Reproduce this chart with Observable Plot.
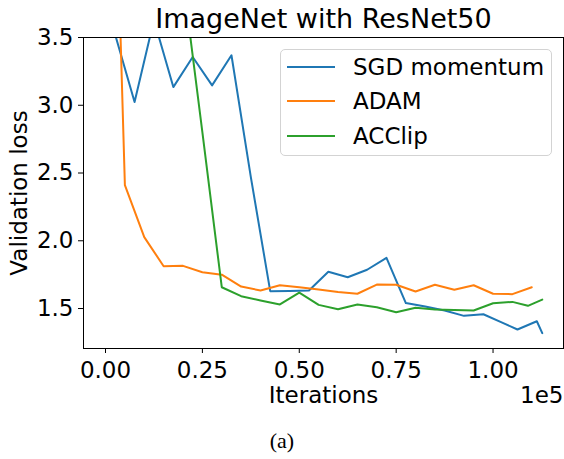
<!DOCTYPE html>
<html><head><meta charset="utf-8">
<script src="https://cdn.jsdelivr.net/npm/d3@7"></script>
<script src="https://cdn.jsdelivr.net/npm/@observablehq/plot@0.6"></script>
<style>
body{margin:0;background:#fff;}
#wrap{position:relative;width:564px;height:459px;font-family:"DejaVu Sans";overflow:hidden;}
#legend{position:absolute;left:280px;top:49px;width:272px;height:107px;border:1px solid #d3d3d3;border-radius:5px;background:rgba(255,255,255,0.8);box-sizing:border-box;}
.sw{position:absolute;width:48px;height:2px;}
.lt{position:absolute;font-size:23px;line-height:34px;height:34px;white-space:nowrap;color:#000;}
#caption{position:absolute;left:0;top:428px;width:564px;text-align:center;font-family:"Liberation Serif";font-size:22px;line-height:26px;}
</style></head>
<body>
<div id="wrap"><div id="chart"></div><div id="legend"></div><div id="caption">(a)</div></div>
<script>
const titleText = "ImageNet with ResNet50";
const xLabel = "Iterations";
const yLabel = "Validation loss";
const xExponent = "1e5";
const captionText = "(a)";
const seriesNames = ["SGD momentum", "ADAM", "ACClip"];
const seriesColors = ["#1f77b4", "#ff7f0e", "#2ca02c"];
const xTicks = [0, 25000, 50000, 75000, 100000];
const yTicks = [1.5, 2.0, 2.5, 3.0, 3.5];

const sgdIter = [2500,7500,12500,17500,22500,27500,32500,37500,42500,47500,52500,57500,62500,67500,72500,77500,82500,87500,92500,97500,102500,106300,111300,112700];
const sgdLoss = [3.52,3.024,3.63,3.134,3.356,3.147,3.369,2.47,1.628,1.630,1.633,1.771,1.731,1.786,1.874,1.540,1.515,1.485,1.446,1.458,1.394,1.345,1.406,1.318];

const adamIter = [0,5000,10000,15000,20000,25000,30000,35000,40000,45000,50000,55000,60000,65000,70000,75000,80000,85000,90000,95000,100000,105000,110000];
const adamLoss = [7.3,2.41,2.027,1.812,1.815,1.768,1.750,1.662,1.633,1.672,1.657,1.640,1.622,1.609,1.677,1.675,1.626,1.675,1.638,1.672,1.609,1.606,1.657];

const acclipIter = [20000,25000,30000,35000,40000,45000,50000,55000,60000,65000,70000,75000,80000,85000,90000,95000,100000,105000,109000,112700];
const acclipLoss = [3.93,2.80,1.657,1.591,1.559,1.530,1.618,1.527,1.495,1.530,1.510,1.473,1.505,1.493,1.490,1.485,1.539,1.549,1.520,1.566];

const series = [
  sgdIter.map((x,i)=>({x, y: sgdLoss[i], s: seriesNames[0]})),
  adamIter.map((x,i)=>({x, y: adamLoss[i], s: seriesNames[1]})),
  acclipIter.map((x,i)=>({x, y: acclipLoss[i], s: seriesNames[2]}))
];

const chart = Plot.plot({
  width: 564,
  height: 420,
  marginLeft: 83,
  marginRight: 1,
  marginTop: 37,
  marginBottom: 72,
  style: {fontFamily: "DejaVu Sans", fontSize: "23px", color: "#000", background: "#fff"},
  x: {domain: [-5680, 118180], label: null},
  y: {domain: [1.205, 3.5], label: null},
  marks: [
    ...series.map((d,i) => Plot.line(d, {x: "x", y: "y", stroke: seriesColors[i], strokeWidth: 2, clip: true})),
    Plot.frame({stroke: "#000", strokeWidth: 1}),
    Plot.axisX({ticks: xTicks, tickSize: 5, tickPadding: 8, fontSize: 23, tickFormat: d => (d/1e5).toFixed(2), label: null}),
    Plot.axisY({ticks: yTicks, tickSize: 5, tickPadding: 5, fontSize: 23, tickFormat: d => d.toFixed(1), label: null}),
    Plot.text([titleText], {frameAnchor: "top", dy: -18, fontSize: 27, textAnchor: "middle", lineAnchor: "middle"}),
    Plot.text([xLabel], {frameAnchor: "bottom", dy: 47, fontSize: 23, textAnchor: "middle", lineAnchor: "middle"}),
    Plot.text([xExponent], {frameAnchor: "bottom-right", dy: 47, fontSize: 23, textAnchor: "end", lineAnchor: "middle"}),
    Plot.text([yLabel], {frameAnchor: "left", dx: -64, rotate: -90, fontSize: 23, textAnchor: "middle", lineAnchor: "middle"})
  ]
});
document.getElementById("chart").appendChild(chart);
document.getElementById("caption").textContent = captionText;

const legend = document.getElementById("legend");
const rowCenters = [17, 51, 86];
seriesNames.forEach((name, i) => {
  const sw = document.createElement("div");
  sw.className = "sw";
  sw.style.left = "6px";
  sw.style.top = (rowCenters[i] - 1) + "px";
  sw.style.background = seriesColors[i];
  legend.appendChild(sw);
  const t = document.createElement("div");
  t.className = "lt";
  t.style.left = "72px";
  t.style.top = (rowCenters[i] - 17) + "px";
  t.textContent = name;
  legend.appendChild(t);
});
</script>
</body></html>
